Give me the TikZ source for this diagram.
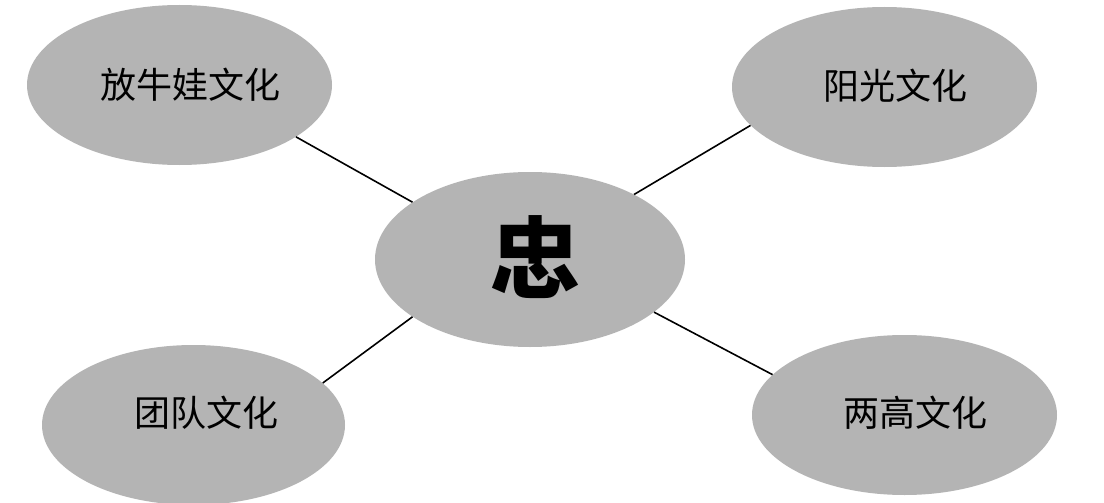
\documentclass[tikz,border=0pt]{standalone}
\usepackage{fontspec}
\usetikzlibrary{shapes.geometric}
\newfontfamily\cjk{Noto Sans CJK SC}
\definecolor{ellgray}{RGB}{180,180,180}
\begin{document}
\begin{tikzpicture}[x=1pt,y=-1pt,
  bubble/.style={ellipse, fill=ellgray, draw=none, minimum width=305pt, minimum height=160pt, inner sep=0pt},
  lbl/.style={font=\cjk\fontsize{36}{40}\selectfont, text=black, inner sep=0pt},
  biglbl/.style={font=\cjk\bfseries\fontsize{90}{96}\selectfont, text=black, inner sep=0pt},
  link/.style={draw=black, line width=1.6pt}]
\useasboundingbox (0,0) rectangle (1104,503);
\fill[white] (0,0) rectangle (1104,503);
% ellipses
\node[bubble] (tl) at (179.5,85) {};
\node[bubble] (tr) at (884.5,87) {};
\node[bubble, minimum width=310pt, minimum height=175pt] (c) at (530,259.5) {};
\node[bubble, minimum width=303pt] (bl) at (193.5,425) {};
\node[bubble] (br) at (904.5,415) {};
% connectors
\draw[link] (tl.-24) -- (c.154);
\draw[link] (tr.196) -- (c.32);
\draw[link] (bl.18) -- (c.206);
\draw[link] (br.163) -- (c.-23);
% texts
\node[lbl] (tltext) at (190,85) {放牛娃文化};
\node[lbl] (trtext) at (895,86) {阳光文化};
\node[biglbl] (ctext) at (535,257) {忠};
\node[lbl] (bltext) at (206,413) {团队文化};
\node[lbl] (brtext) at (915,413) {两高文化};
\end{tikzpicture}
\end{document}
